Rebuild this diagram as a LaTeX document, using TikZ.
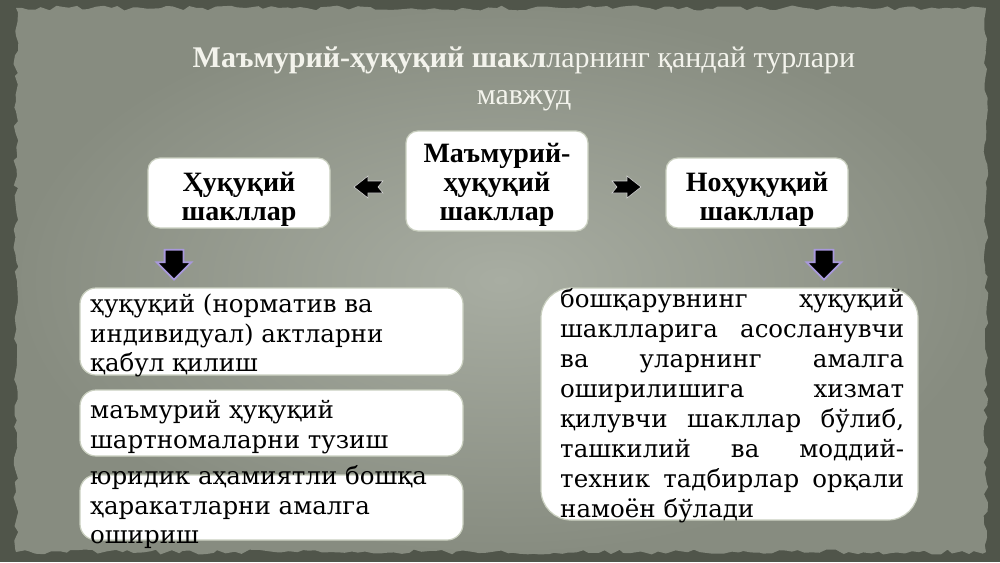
\documentclass[tikz,border=0pt]{standalone}
\usepackage{fontspec}
\setmainfont{DejaVu Serif}
\newfontfamily\titlefont{Liberation Serif}
\usetikzlibrary{decorations.pathmorphing,shapes.arrows,calc}
\definecolor{frame}{HTML}{50554A}
\definecolor{panelin}{HTML}{A8ADA2}
\definecolor{panelout}{HTML}{878C80}
\definecolor{titlecol}{HTML}{F3F3EC}
\definecolor{glow}{HTML}{A898DC}
\definecolor{boxedge}{HTML}{C9CFBF}
\begin{document}
\begin{tikzpicture}[x=1pt,y=-1pt,
  hbox/.style={fill=white, draw=boxedge, line width=1.2pt, rounded corners=12pt, inner sep=0pt},
  wbox/.style={fill=white, draw=boxedge, line width=1.2pt, rounded corners=16pt, inner sep=0pt},
  rbox/.style={fill=white, draw=boxedge, line width=1.2pt, rounded corners=30pt, inner sep=0pt},
  htext/.style={align=center, inner sep=0pt, font=\titlefont\bfseries\fontsize{28}{29}\selectfont},
  btext/.style={anchor=base west, inner sep=0pt, font=\fontsize{24.5}{30}\selectfont},
  downarrow/.style={single arrow, rotate=-90, fill=black, draw=glow, line width=1.8pt,
     minimum height=30pt, single arrow head extend=8pt, inner sep=8.5pt},
  sidearrow/.style={fill=black, draw=gray!35, line width=0.6pt}
]
\useasboundingbox (0,0) rectangle (1000,562);
\fill[frame] (0,0) rectangle (1000,562);
\shade[inner color=panelin, outer color=panelout, decorate,
  decoration={random steps,segment length=7pt,amplitude=2.5pt}] (16,8) rectangle (986,552);

% title
\node[anchor=base, inner sep=0pt, text=titlecol, font=\titlefont\fontsize{30}{36}\selectfont] (title1) at (524,67)
  {\textbf{Маъмурий-ҳуқуқий шакл}ларнинг қандай турлари};
\node[anchor=base, inner sep=0pt, text=titlecol, font=\titlefont\fontsize{30}{36}\selectfont] (title2) at (524,104) {мавжуд};

% header boxes
\node[hbox, minimum width=182pt, minimum height=100pt] (center) at (497,181) {};
\node[hbox, minimum width=182pt, minimum height=70pt] (left) at (239,193) {};
\node[hbox, minimum width=182pt, minimum height=70pt] (right) at (757,193) {};
\node[htext] (centert) at (497,185) {Маъмурий-\\ҳуқуқий\\шакллар};
\node[htext] (leftt) at (239,199) {Ҳуқуқий\\шакллар};
\node[htext] (rightt) at (757,199) {Ноҳуқуқий\\шакллар};

% side arrows
\coordinate (la) at ($(left.east)!0.5!(center.west)$);
\coordinate (ra) at ($(center.east)!0.5!(right.west)$);
\filldraw[sidearrow] (la) ++(15,-6) -- ++(-15,0) -- ++(0,-5) -- ++(-14,11) -- ++(14,11) -- ++(0,-5) -- ++(15,0) -- ++(-5,-6) -- cycle;
\filldraw[sidearrow] (ra) ++(-15,-6) -- ++(15,0) -- ++(0,-5) -- ++(14,11) -- ++(-14,11) -- ++(0,-5) -- ++(-15,0) -- ++(5,-6) -- cycle;

% down arrows
\node[downarrow] (ldown) at (174,260) {};
\node[downarrow] (rdown) at (824,260) {};

% left bottom boxes
\node[wbox, minimum width=383pt, minimum height=87pt] (b1) at (271.5,331.5) {};
\node[wbox, minimum width=383pt, minimum height=66pt] (b2) at (271.5,423) {};
\node[wbox, minimum width=383pt, minimum height=65pt] (b3) at (271.5,507.5) {};
\node[btext] (b1a) at (90,312) {ҳуқуқий (норматив ва};
\node[btext] (b1b) at (90,342) {индивидуал) актларни};
\node[btext] (b1c) at (90,371) {қабул қилиш};
\node[btext] (b2a) at (90,418) {маъмурий ҳуқуқий};
\node[btext] (b2b) at (90,448) {шартномаларни тузиш};
\node[btext] (b3a) at (90,484) {юридик аҳамиятли бошқа};
\node[btext] (b3b) at (90,514) {ҳаракатларни амалга};
\node[btext] (b3c) at (90,543) {ошириш};

% right box
\node[rbox, minimum width=377pt, minimum height=232pt] (rb) at (729.5,404) {};
\node[btext] (r1) at (560,307) {\makebox[344pt][s]{бошқарувнинг ҳуқуқий}};
\node[btext] (r2) at (560,337) {\makebox[344pt][s]{шаклларига асосланувчи}};
\node[btext] (r3) at (560,367) {\makebox[344pt][s]{ва уларнинг амалга}};
\node[btext] (r4) at (560,397) {\makebox[344pt][s]{оширилишига хизмат}};
\node[btext] (r5) at (560,427) {\makebox[344pt][s]{қилувчи шакллар бўлиб,}};
\node[btext] (r6) at (560,457) {\makebox[344pt][s]{ташкилий ва моддий-}};
\node[btext] (r7) at (560,487) {\makebox[344pt][s]{техник тадбирлар орқали}};
\node[btext] (r8) at (560,517) {намоён бўлади};
\end{tikzpicture}
\end{document}
